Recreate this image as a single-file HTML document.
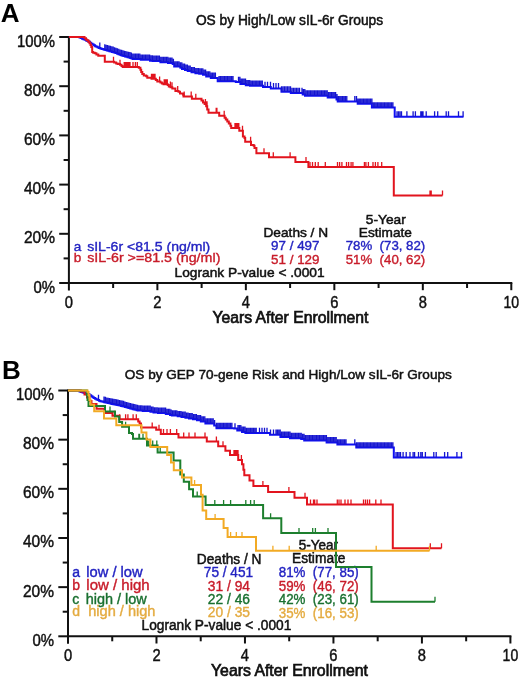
<!DOCTYPE html>
<html><head><meta charset="utf-8"><title>Kaplan-Meier OS curves</title>
<style>
html,body{margin:0;padding:0;background:#fff;}
body{width:520px;height:681px;overflow:hidden;}
svg{display:block;font-family:"Liberation Sans", sans-serif;will-change:transform;}
</style></head>
<body>
<svg width="520" height="681" viewBox="0 0 520 681">
<rect width="520" height="681" fill="#fff"/>
<line x1="68.90" y1="36.00" x2="68.90" y2="290.50" stroke="#111" stroke-width="2"/>
<line x1="67.90" y1="283.00" x2="512.30" y2="283.00" stroke="#111" stroke-width="2"/>
<line x1="59.20" y1="283.00" x2="68.90" y2="283.00" stroke="#111" stroke-width="2"/>
<line x1="63.60" y1="258.40" x2="68.90" y2="258.40" stroke="#111" stroke-width="2"/>
<line x1="59.20" y1="233.80" x2="68.90" y2="233.80" stroke="#111" stroke-width="2"/>
<line x1="63.60" y1="209.20" x2="68.90" y2="209.20" stroke="#111" stroke-width="2"/>
<line x1="59.20" y1="184.60" x2="68.90" y2="184.60" stroke="#111" stroke-width="2"/>
<line x1="63.60" y1="160.00" x2="68.90" y2="160.00" stroke="#111" stroke-width="2"/>
<line x1="59.20" y1="135.40" x2="68.90" y2="135.40" stroke="#111" stroke-width="2"/>
<line x1="63.60" y1="110.80" x2="68.90" y2="110.80" stroke="#111" stroke-width="2"/>
<line x1="59.20" y1="86.20" x2="68.90" y2="86.20" stroke="#111" stroke-width="2"/>
<line x1="63.60" y1="61.60" x2="68.90" y2="61.60" stroke="#111" stroke-width="2"/>
<line x1="59.20" y1="37.00" x2="68.90" y2="37.00" stroke="#111" stroke-width="2"/>
<line x1="113.14" y1="283.00" x2="113.14" y2="288.00" stroke="#111" stroke-width="2"/>
<line x1="157.38" y1="283.00" x2="157.38" y2="290.20" stroke="#111" stroke-width="2"/>
<line x1="201.62" y1="283.00" x2="201.62" y2="288.00" stroke="#111" stroke-width="2"/>
<line x1="245.86" y1="283.00" x2="245.86" y2="290.20" stroke="#111" stroke-width="2"/>
<line x1="290.10" y1="283.00" x2="290.10" y2="288.00" stroke="#111" stroke-width="2"/>
<line x1="334.34" y1="283.00" x2="334.34" y2="290.20" stroke="#111" stroke-width="2"/>
<line x1="378.58" y1="283.00" x2="378.58" y2="288.00" stroke="#111" stroke-width="2"/>
<line x1="422.82" y1="283.00" x2="422.82" y2="290.20" stroke="#111" stroke-width="2"/>
<line x1="467.06" y1="283.00" x2="467.06" y2="288.00" stroke="#111" stroke-width="2"/>
<line x1="511.30" y1="283.00" x2="511.30" y2="290.20" stroke="#111" stroke-width="2"/>
<text x="0.70" y="21.60" font-size="26" fill="#000" font-weight="bold" xml:space="preserve">A</text>
<text x="195.90" y="24.90" font-size="13.8" fill="#111" stroke="#111" stroke-width="0.5" textLength="187.20" lengthAdjust="spacingAndGlyphs" xml:space="preserve">OS by High/Low sIL-6r Groups</text>
<text x="55.00" y="46.60" font-size="16.2" fill="#111" stroke="#111" stroke-width="0.45" text-anchor="end" textLength="38.00" lengthAdjust="spacingAndGlyphs" xml:space="preserve">100%</text>
<text x="55.00" y="95.80" font-size="16.2" fill="#111" stroke="#111" stroke-width="0.45" text-anchor="end" textLength="31.00" lengthAdjust="spacingAndGlyphs" xml:space="preserve">80%</text>
<text x="55.00" y="145.00" font-size="16.2" fill="#111" stroke="#111" stroke-width="0.45" text-anchor="end" textLength="31.00" lengthAdjust="spacingAndGlyphs" xml:space="preserve">60%</text>
<text x="55.00" y="194.20" font-size="16.2" fill="#111" stroke="#111" stroke-width="0.45" text-anchor="end" textLength="31.00" lengthAdjust="spacingAndGlyphs" xml:space="preserve">40%</text>
<text x="55.00" y="243.40" font-size="16.2" fill="#111" stroke="#111" stroke-width="0.45" text-anchor="end" textLength="31.00" lengthAdjust="spacingAndGlyphs" xml:space="preserve">20%</text>
<text x="55.00" y="292.60" font-size="16.2" fill="#111" stroke="#111" stroke-width="0.45" text-anchor="end" textLength="21.60" lengthAdjust="spacingAndGlyphs" xml:space="preserve">0%</text>
<text x="68.90" y="307.80" font-size="16.2" fill="#111" stroke="#111" stroke-width="0.45" text-anchor="middle" textLength="8.20" lengthAdjust="spacingAndGlyphs" xml:space="preserve">0</text>
<text x="157.38" y="307.80" font-size="16.2" fill="#111" stroke="#111" stroke-width="0.45" text-anchor="middle" textLength="8.20" lengthAdjust="spacingAndGlyphs" xml:space="preserve">2</text>
<text x="245.86" y="307.80" font-size="16.2" fill="#111" stroke="#111" stroke-width="0.45" text-anchor="middle" textLength="8.20" lengthAdjust="spacingAndGlyphs" xml:space="preserve">4</text>
<text x="334.34" y="307.80" font-size="16.2" fill="#111" stroke="#111" stroke-width="0.45" text-anchor="middle" textLength="8.20" lengthAdjust="spacingAndGlyphs" xml:space="preserve">6</text>
<text x="422.82" y="307.80" font-size="16.2" fill="#111" stroke="#111" stroke-width="0.45" text-anchor="middle" textLength="8.20" lengthAdjust="spacingAndGlyphs" xml:space="preserve">8</text>
<text x="511.30" y="307.80" font-size="16.2" fill="#111" stroke="#111" stroke-width="0.45" text-anchor="middle" textLength="15.60" lengthAdjust="spacingAndGlyphs" xml:space="preserve">10</text>
<text x="212.40" y="322.60" font-size="15.8" fill="#111" stroke="#111" stroke-width="0.7" textLength="156.10" lengthAdjust="spacingAndGlyphs" xml:space="preserve">Years After Enrollment</text>
<text x="73.80" y="250.80" font-size="13.5" fill="#2323c2" stroke="#2323c2" stroke-width="0.38" xml:space="preserve">a</text>
<text x="87.20" y="250.80" font-size="13.5" fill="#2323c2" stroke="#2323c2" stroke-width="0.38" textLength="123.00" lengthAdjust="spacingAndGlyphs" xml:space="preserve">sIL-6r &lt;81.5 (ng/ml)</text>
<text x="73.80" y="262.00" font-size="13.5" fill="#c81c2a" stroke="#c81c2a" stroke-width="0.38" xml:space="preserve">b</text>
<text x="87.20" y="262.00" font-size="13.5" fill="#c81c2a" stroke="#c81c2a" stroke-width="0.38" textLength="133.20" lengthAdjust="spacingAndGlyphs" xml:space="preserve">sIL-6r &gt;=81.5 (ng/ml)</text>
<text x="263.50" y="236.80" font-size="13.5" fill="#111" stroke="#111" stroke-width="0.5" textLength="64.60" lengthAdjust="spacingAndGlyphs" xml:space="preserve">Deaths / N</text>
<text x="271.10" y="250.00" font-size="13.5" fill="#2323c2" stroke="#2323c2" stroke-width="0.38" textLength="48.40" lengthAdjust="spacingAndGlyphs" xml:space="preserve">97 / 497</text>
<text x="271.10" y="263.80" font-size="13.5" fill="#c81c2a" stroke="#c81c2a" stroke-width="0.38" textLength="48.40" lengthAdjust="spacingAndGlyphs" xml:space="preserve">51 / 129</text>
<text x="174.60" y="277.00" font-size="13.5" fill="#111" stroke="#111" stroke-width="0.5" textLength="150.00" lengthAdjust="spacingAndGlyphs" xml:space="preserve">Logrank P-value &lt; .0001</text>
<text x="365.80" y="223.80" font-size="13.5" fill="#111" stroke="#111" stroke-width="0.5" textLength="39.90" lengthAdjust="spacingAndGlyphs" xml:space="preserve">5-Year</text>
<text x="358.80" y="236.90" font-size="13.5" fill="#111" stroke="#111" stroke-width="0.5" textLength="53.10" lengthAdjust="spacingAndGlyphs" xml:space="preserve">Estimate</text>
<text x="345.70" y="250.30" font-size="13.5" fill="#2323c2" stroke="#2323c2" stroke-width="0.38" textLength="79.60" lengthAdjust="spacingAndGlyphs" xml:space="preserve">78%  (73, 82)</text>
<text x="345.70" y="263.50" font-size="13.5" fill="#c81c2a" stroke="#c81c2a" stroke-width="0.38" textLength="79.60" lengthAdjust="spacingAndGlyphs" xml:space="preserve">51%  (40, 62)</text>
<path d="M68.90,37.00H79.50V37.60H80.80V38.12H82.10V38.64H83.40V39.16H84.70V39.75H86.00V40.40H87.30V41.05H88.60V41.82H89.90V42.73H91.20V43.64H92.50V44.51H93.80V45.32H95.10V46.14H96.40V46.87H97.70V47.42H99.00V47.97H100.30V48.49H101.60V48.88H102.90V49.27H104.20V49.66H105.50V50.05H106.80V50.44H108.10V50.83H109.40V51.22H110.70V51.61H112.00V52.00H113.30V52.36H114.60V52.71H115.90V53.07H117.20V53.64H118.50V54.22H119.80V54.81H121.10V55.25H122.40V55.67H123.70V56.08H125.00V56.50H126.30V56.82H127.60V57.15H128.90V57.47H130.20V57.95H131.50V58.44H132.80V58.92H140.80V59.80H150.00V60.70H152.70V61.00H160.40V62.20H168.00V63.00H172.70V64.10H174.20V66.60H180.40V67.70H182.00V69.00H185.00V70.00H187.70V71.00H191.50V72.30H195.40V73.30H199.20V73.70H203.00V74.80H206.20V76.60H210.80V78.00H217.70V81.30H235.80V82.10H240.40V84.00H245.80V85.30H250.00V85.80H263.00V87.10H270.80V88.50H281.50V91.70H290.80V93.10H302.70V94.50H305.00V95.70H327.70V97.50H336.50V99.50H337.70V101.40H357.70V103.80H371.90V107.60H394.70V116.70H463.50" fill="none" stroke="#1010f4" stroke-width="2" stroke-linejoin="miter"/>
<path d="M99.80,47.97V42.57M104.80,49.66V44.26M106.20,50.05V44.65M107.60,50.44V45.04M109.00,50.83V45.43M110.40,51.22V45.82M111.80,51.61V46.21M113.20,52.00V46.60M114.60,52.71V47.31M116.00,53.07V47.67M117.40,53.64V48.24M118.80,54.22V48.82M120.20,54.81V49.41M121.60,55.25V49.85M123.00,55.67V50.27M124.40,56.08V50.68M125.80,56.50V51.10M127.20,56.82V51.42M128.60,57.15V51.75M130.00,57.47V52.07M131.40,57.95V52.55M132.80,58.92V53.52M134.20,58.92V53.52M135.60,58.92V53.52M137.00,58.92V53.52M138.40,58.92V53.52M139.80,58.92V53.52M141.20,59.80V54.40M142.60,59.80V54.40M144.00,59.80V54.40M145.40,59.80V54.40M146.80,59.80V54.40M148.20,59.80V54.40M149.60,59.80V54.40M151.00,60.70V55.30M152.40,60.70V55.30M153.80,61.00V55.60M155.20,61.00V55.60M156.60,61.00V55.60M158.00,61.00V55.60M159.40,61.00V55.60M160.80,62.20V56.80M162.20,62.20V56.80M163.60,62.20V56.80M165.00,62.20V56.80M166.40,62.20V56.80M167.80,62.20V56.80M169.20,63.00V57.60M170.60,63.00V57.60M172.00,63.00V57.60M173.40,64.10V58.70M174.80,66.60V61.20M176.20,66.60V61.20M177.60,66.60V61.20M179.00,66.60V61.20M180.40,67.70V62.30M181.80,67.70V62.30M183.20,69.00V63.60M184.60,69.00V63.60M186.00,70.00V64.60M187.40,70.00V64.60M188.80,71.00V65.60M190.20,71.00V65.60M191.60,72.30V66.90M193.00,72.30V66.90M194.40,72.30V66.90M195.80,73.30V67.90M197.20,73.30V67.90M198.60,73.30V67.90M200.00,73.70V68.30M201.40,73.70V68.30M202.80,73.70V68.30M204.20,74.80V69.40M205.60,74.80V69.40M207.00,76.60V71.20M208.40,76.60V71.20M209.80,76.60V71.20M211.20,78.00V72.60M212.60,78.00V72.60M214.00,78.00V72.60M215.40,78.00V72.60M219.00,81.30V75.90M220.40,81.30V75.90M221.80,81.30V75.90M223.20,81.30V75.90M224.60,81.30V75.90M226.00,81.30V75.90M227.40,81.30V75.90M228.80,81.30V75.90M230.20,81.30V75.90M231.60,81.30V75.90M233.00,81.30V75.90M238.50,82.10V76.70M239.90,82.10V76.70M241.30,84.00V78.60M242.70,84.00V78.60M244.10,84.00V78.60M245.50,84.00V78.60M246.90,85.30V79.90M248.30,85.30V79.90M249.70,85.30V79.90M251.10,85.80V80.40M252.50,85.80V80.40M253.90,85.80V80.40M255.30,85.80V80.40M256.70,85.80V80.40M258.10,85.80V80.40M259.50,85.80V80.40M260.90,85.80V80.40M262.30,85.80V80.40M265.00,87.10V81.70M267.50,87.10V81.70M270.50,87.10V81.70M273.50,88.50V83.10M276.00,88.50V83.10M278.50,88.50V83.10M281.50,91.70V86.30M283.00,91.70V86.30M284.50,91.70V86.30M286.00,91.70V86.30M287.50,91.70V86.30M289.00,91.70V86.30M290.50,91.70V86.30M292.00,93.10V87.70M293.50,93.10V87.70M295.00,93.10V87.70M296.50,93.10V87.70M298.00,93.10V87.70M299.50,93.10V87.70M302.00,93.10V87.70M303.40,94.50V89.10M304.80,94.50V89.10M306.20,95.70V90.30M307.60,95.70V90.30M309.00,95.70V90.30M310.40,95.70V90.30M311.80,95.70V90.30M313.20,95.70V90.30M314.60,95.70V90.30M316.00,95.70V90.30M317.40,95.70V90.30M318.80,95.70V90.30M320.20,95.70V90.30M321.60,95.70V90.30M323.00,95.70V90.30M324.40,95.70V90.30M325.80,95.70V90.30M327.20,95.70V90.30M328.60,97.50V92.10M330.00,97.50V92.10M331.40,97.50V92.10M332.80,97.50V92.10M334.20,97.50V92.10M335.60,97.50V92.10M337.00,99.50V94.10M338.40,101.40V96.00M339.80,101.40V96.00M341.20,101.40V96.00M342.60,101.40V96.00M344.00,101.40V96.00M345.40,101.40V96.00M346.80,101.40V96.00M354.80,101.40V96.00M356.50,101.40V96.00M357.90,103.80V98.40M359.30,103.80V98.40M360.70,103.80V98.40M362.10,103.80V98.40M363.50,103.80V98.40M364.90,103.80V98.40M366.30,103.80V98.40M367.70,103.80V98.40M369.10,103.80V98.40M370.50,103.80V98.40M371.90,103.80V98.40M373.30,107.60V102.20M374.70,107.60V102.20M376.10,107.60V102.20M377.50,107.60V102.20M378.90,107.60V102.20M380.30,107.60V102.20M381.70,107.60V102.20M383.10,107.60V102.20M384.50,107.60V102.20M385.90,107.60V102.20M387.30,107.60V102.20M388.70,107.60V102.20M390.10,107.60V102.20M391.50,107.60V102.20M392.90,107.60V102.20M397.00,116.70V111.30M398.50,116.70V111.30M400.00,116.70V111.30M401.50,116.70V111.30M406.90,116.70V111.30M413.10,116.70V111.30M415.40,116.70V111.30M420.80,116.70V111.30M422.00,116.70V111.30M423.00,116.70V111.30M426.20,116.70V111.30M434.60,116.70V111.30M437.70,116.70V111.30M446.20,116.70V111.30M448.50,116.70V111.30M458.50,116.70V111.30M463.10,116.70V111.30" fill="none" stroke="#1414d0" stroke-width="1.3"/>
<path d="M68.90,37.00H84.50V38.30H86.00V39.40H86.80V40.20H88.30V41.70H89.50V43.20H90.50V45.00H91.30V47.00H92.20V52.00H93.20V52.70H94.80V53.20H96.40V54.40H98.30V55.80H104.80V61.70H114.20V62.50H116.20V63.60H117.70V64.00H120.00V64.80H121.50V65.90H122.70V66.90H138.80V67.80H140.40V69.70H141.20V72.00H142.30V73.90H143.80V75.50H146.20V76.20H147.30V77.80H151.50V78.80H155.80V80.00H157.30V81.60H160.40V82.40H161.90V83.50H163.50V84.30H167.70V85.00H168.80V86.60H170.50V87.30H172.30V88.60H175.40V90.90H178.50V91.70H180.00V93.60H183.10V94.80H183.50V96.50H191.90V98.80H201.50V100.50H203.00V102.50H204.60V104.00H206.20V106.30H207.20V109.40H208.50V112.80H219.20V115.80H224.60V117.70H225.80V119.60H227.30V121.50H228.80V123.50H230.40V125.80H231.20V127.90H239.30V130.80H242.90V136.50H244.50V138.00H245.20V141.80H251.00V145.00H253.70V145.80H254.50V148.00H256.40V153.30H269.00V157.20H295.40V162.00H308.40V167.00H393.80V195.60H442.50" fill="none" stroke="#e2141e" stroke-width="2" stroke-linejoin="miter"/>
<path d="M113.50,61.70V56.70M120.00,64.80V59.80M124.20,66.90V61.90M125.50,66.90V61.90M126.50,66.90V61.90M127.50,66.90V61.90M128.70,66.90V61.90M130.00,66.90V61.90M133.00,66.90V61.90M135.40,66.90V61.90M137.30,66.90V61.90M151.50,78.80V73.80M152.70,78.80V73.80M154.00,78.80V73.80M155.00,78.80V73.80M159.60,81.60V76.60M164.20,84.30V79.30M165.20,84.30V79.30M166.20,84.30V79.30M167.30,84.30V79.30M170.40,86.60V81.60M172.00,87.30V82.30M177.70,90.90V85.90M184.20,96.50V91.50M191.20,96.50V91.50M195.80,98.80V93.80M205.40,104.00V99.00M206.40,106.30V101.30M207.00,106.30V101.30M216.20,112.80V107.80M216.90,112.80V107.80M224.20,115.80V110.80M235.00,127.90V122.90M236.00,127.90V122.90M237.00,127.90V122.90M238.00,127.90V122.90M238.80,127.90V122.90M242.50,130.80V125.80M250.60,141.80V136.80M264.00,153.30V148.30M273.30,157.20V152.20M290.10,157.20V152.20M306.00,162.00V157.00M310.00,167.00V162.00M312.50,167.00V162.00M315.30,167.00V162.00M318.20,167.00V162.00M325.30,167.00V162.00M337.50,167.00V162.00M339.60,167.00V162.00M341.90,167.00V162.00M346.50,167.00V162.00M348.60,167.00V162.00M351.10,167.00V162.00M352.90,167.00V162.00M364.40,167.00V162.00M365.90,167.00V162.00M368.40,167.00V162.00M373.00,167.00V162.00M375.40,167.00V162.00M377.90,167.00V162.00M381.70,167.00V162.00M430.00,195.60V190.60M431.20,195.60V190.60M442.50,195.60V190.60" fill="none" stroke="#e2141e" stroke-width="1.3"/>
<line x1="68.00" y1="389.50" x2="68.00" y2="643.80" stroke="#111" stroke-width="2"/>
<line x1="67.00" y1="636.30" x2="511.40" y2="636.30" stroke="#111" stroke-width="2"/>
<line x1="58.30" y1="636.30" x2="68.00" y2="636.30" stroke="#111" stroke-width="2"/>
<line x1="62.70" y1="611.72" x2="68.00" y2="611.72" stroke="#111" stroke-width="2"/>
<line x1="58.30" y1="587.14" x2="68.00" y2="587.14" stroke="#111" stroke-width="2"/>
<line x1="62.70" y1="562.56" x2="68.00" y2="562.56" stroke="#111" stroke-width="2"/>
<line x1="58.30" y1="537.98" x2="68.00" y2="537.98" stroke="#111" stroke-width="2"/>
<line x1="62.70" y1="513.40" x2="68.00" y2="513.40" stroke="#111" stroke-width="2"/>
<line x1="58.30" y1="488.82" x2="68.00" y2="488.82" stroke="#111" stroke-width="2"/>
<line x1="62.70" y1="464.24" x2="68.00" y2="464.24" stroke="#111" stroke-width="2"/>
<line x1="58.30" y1="439.66" x2="68.00" y2="439.66" stroke="#111" stroke-width="2"/>
<line x1="62.70" y1="415.08" x2="68.00" y2="415.08" stroke="#111" stroke-width="2"/>
<line x1="58.30" y1="390.50" x2="68.00" y2="390.50" stroke="#111" stroke-width="2"/>
<line x1="112.24" y1="636.30" x2="112.24" y2="641.30" stroke="#111" stroke-width="2"/>
<line x1="156.48" y1="636.30" x2="156.48" y2="643.50" stroke="#111" stroke-width="2"/>
<line x1="200.72" y1="636.30" x2="200.72" y2="641.30" stroke="#111" stroke-width="2"/>
<line x1="244.96" y1="636.30" x2="244.96" y2="643.50" stroke="#111" stroke-width="2"/>
<line x1="289.20" y1="636.30" x2="289.20" y2="641.30" stroke="#111" stroke-width="2"/>
<line x1="333.44" y1="636.30" x2="333.44" y2="643.50" stroke="#111" stroke-width="2"/>
<line x1="377.68" y1="636.30" x2="377.68" y2="641.30" stroke="#111" stroke-width="2"/>
<line x1="421.92" y1="636.30" x2="421.92" y2="643.50" stroke="#111" stroke-width="2"/>
<line x1="466.16" y1="636.30" x2="466.16" y2="641.30" stroke="#111" stroke-width="2"/>
<line x1="510.40" y1="636.30" x2="510.40" y2="643.50" stroke="#111" stroke-width="2"/>
<text x="2.00" y="378.60" font-size="26" fill="#000" font-weight="bold" xml:space="preserve">B</text>
<text x="124.80" y="378.70" font-size="13.5" fill="#111" stroke="#111" stroke-width="0.5" textLength="327.00" lengthAdjust="spacingAndGlyphs" xml:space="preserve">OS by GEP 70-gene Risk and High/Low sIL-6r Groups</text>
<text x="54.00" y="400.00" font-size="16.2" fill="#111" stroke="#111" stroke-width="0.45" text-anchor="end" textLength="38.00" lengthAdjust="spacingAndGlyphs" xml:space="preserve">100%</text>
<text x="54.00" y="449.16" font-size="16.2" fill="#111" stroke="#111" stroke-width="0.45" text-anchor="end" textLength="31.00" lengthAdjust="spacingAndGlyphs" xml:space="preserve">80%</text>
<text x="54.00" y="498.32" font-size="16.2" fill="#111" stroke="#111" stroke-width="0.45" text-anchor="end" textLength="31.00" lengthAdjust="spacingAndGlyphs" xml:space="preserve">60%</text>
<text x="54.00" y="547.48" font-size="16.2" fill="#111" stroke="#111" stroke-width="0.45" text-anchor="end" textLength="31.00" lengthAdjust="spacingAndGlyphs" xml:space="preserve">40%</text>
<text x="54.00" y="596.64" font-size="16.2" fill="#111" stroke="#111" stroke-width="0.45" text-anchor="end" textLength="31.00" lengthAdjust="spacingAndGlyphs" xml:space="preserve">20%</text>
<text x="54.00" y="645.80" font-size="16.2" fill="#111" stroke="#111" stroke-width="0.45" text-anchor="end" textLength="21.60" lengthAdjust="spacingAndGlyphs" xml:space="preserve">0%</text>
<text x="68.00" y="661.00" font-size="16.2" fill="#111" stroke="#111" stroke-width="0.45" text-anchor="middle" textLength="8.20" lengthAdjust="spacingAndGlyphs" xml:space="preserve">0</text>
<text x="156.48" y="661.00" font-size="16.2" fill="#111" stroke="#111" stroke-width="0.45" text-anchor="middle" textLength="8.20" lengthAdjust="spacingAndGlyphs" xml:space="preserve">2</text>
<text x="244.96" y="661.00" font-size="16.2" fill="#111" stroke="#111" stroke-width="0.45" text-anchor="middle" textLength="8.20" lengthAdjust="spacingAndGlyphs" xml:space="preserve">4</text>
<text x="333.44" y="661.00" font-size="16.2" fill="#111" stroke="#111" stroke-width="0.45" text-anchor="middle" textLength="8.20" lengthAdjust="spacingAndGlyphs" xml:space="preserve">6</text>
<text x="421.92" y="661.00" font-size="16.2" fill="#111" stroke="#111" stroke-width="0.45" text-anchor="middle" textLength="8.20" lengthAdjust="spacingAndGlyphs" xml:space="preserve">8</text>
<text x="510.40" y="661.00" font-size="16.2" fill="#111" stroke="#111" stroke-width="0.45" text-anchor="middle" textLength="15.60" lengthAdjust="spacingAndGlyphs" xml:space="preserve">10</text>
<text x="211.00" y="675.70" font-size="15.8" fill="#111" stroke="#111" stroke-width="0.7" textLength="156.90" lengthAdjust="spacingAndGlyphs" xml:space="preserve">Years After Enrollment</text>
<text x="72.20" y="576.90" font-size="14" fill="#2323c2" stroke="#2323c2" stroke-width="0.38" xml:space="preserve">a</text>
<text x="86.30" y="576.90" font-size="14" fill="#2323c2" stroke="#2323c2" stroke-width="0.38" textLength="56.30" lengthAdjust="spacingAndGlyphs" xml:space="preserve">low / low</text>
<text x="72.20" y="590.40" font-size="14" fill="#c81c2a" stroke="#c81c2a" stroke-width="0.38" xml:space="preserve">b</text>
<text x="86.30" y="590.40" font-size="14" fill="#c81c2a" stroke="#c81c2a" stroke-width="0.38" textLength="63.40" lengthAdjust="spacingAndGlyphs" xml:space="preserve">low / high</text>
<text x="72.20" y="603.50" font-size="14" fill="#1a7030" stroke="#1a7030" stroke-width="0.38" xml:space="preserve">c</text>
<text x="85.70" y="603.50" font-size="14" fill="#1a7030" stroke="#1a7030" stroke-width="0.38" textLength="61.10" lengthAdjust="spacingAndGlyphs" xml:space="preserve">high / low</text>
<text x="72.20" y="616.30" font-size="14" fill="#e4ab40" stroke="#e4ab40" stroke-width="0.38" xml:space="preserve">d</text>
<text x="88.20" y="616.30" font-size="14" fill="#e4ab40" stroke="#e4ab40" stroke-width="0.38" textLength="67.30" lengthAdjust="spacingAndGlyphs" xml:space="preserve">high / high</text>
<text x="196.80" y="563.50" font-size="14" fill="#111" stroke="#111" stroke-width="0.5" textLength="64.60" lengthAdjust="spacingAndGlyphs" xml:space="preserve">Deaths / N</text>
<text x="203.80" y="577.30" font-size="14" fill="#2323c2" stroke="#2323c2" stroke-width="0.38" textLength="49.30" lengthAdjust="spacingAndGlyphs" xml:space="preserve">75 / 451</text>
<text x="207.80" y="590.50" font-size="14" fill="#c81c2a" stroke="#c81c2a" stroke-width="0.38" textLength="42.20" lengthAdjust="spacingAndGlyphs" xml:space="preserve">31 / 94</text>
<text x="207.80" y="603.50" font-size="14" fill="#1a7030" stroke="#1a7030" stroke-width="0.38" textLength="42.20" lengthAdjust="spacingAndGlyphs" xml:space="preserve">22 / 46</text>
<text x="207.80" y="616.70" font-size="14" fill="#e4ab40" stroke="#e4ab40" stroke-width="0.38" textLength="42.20" lengthAdjust="spacingAndGlyphs" xml:space="preserve">20 / 35</text>
<text x="141.50" y="630.30" font-size="14" fill="#111" stroke="#111" stroke-width="0.5" textLength="149.80" lengthAdjust="spacingAndGlyphs" xml:space="preserve">Logrank P-value &lt; .0001</text>
<text x="298.75" y="549.50" font-size="14" fill="#111" stroke="#111" stroke-width="0.5" textLength="39.30" lengthAdjust="spacingAndGlyphs" xml:space="preserve">5-Year</text>
<text x="292.00" y="563.00" font-size="14" fill="#111" stroke="#111" stroke-width="0.5" textLength="53.50" lengthAdjust="spacingAndGlyphs" xml:space="preserve">Estimate</text>
<text x="278.75" y="577.00" font-size="14" fill="#2323c2" stroke="#2323c2" stroke-width="0.38" textLength="80.00" lengthAdjust="spacingAndGlyphs" xml:space="preserve">81%  (77, 85)</text>
<text x="278.75" y="590.75" font-size="14" fill="#c81c2a" stroke="#c81c2a" stroke-width="0.38" textLength="80.00" lengthAdjust="spacingAndGlyphs" xml:space="preserve">59%  (46, 72)</text>
<text x="278.75" y="604.25" font-size="14" fill="#1a7030" stroke="#1a7030" stroke-width="0.38" textLength="80.00" lengthAdjust="spacingAndGlyphs" xml:space="preserve">42%  (23, 61)</text>
<text x="278.75" y="617.50" font-size="14" fill="#e4ab40" stroke="#e4ab40" stroke-width="0.38" textLength="80.00" lengthAdjust="spacingAndGlyphs" xml:space="preserve">35%  (16, 53)</text>
<path d="M68.00,390.50H79.50V391.60H80.80V391.95H82.10V392.29H83.40V392.64H84.70V393.08H86.00V393.59H87.30V394.11H88.60V394.62H89.90V395.32H91.20V396.23H92.50V397.14H93.80V397.99H95.10V398.76H96.40V399.50H97.70V400.12H99.00V400.75H100.30V401.13H101.60V401.49H102.90V401.82H104.20V402.15H105.50V402.48H106.80V402.78H108.10V403.07H109.40V403.37H110.70V403.64H112.00V403.91H113.30V404.17H114.60V404.44H115.90V404.71H117.20V405.00H118.50V405.29H119.80V405.60H121.10V405.92H122.40V406.25H123.70V406.59H125.00V406.95H126.30V407.31H127.60V407.67H128.90V408.05H130.20V408.43H131.50V408.79H132.80V409.14H134.10V409.49H135.40V409.85H136.70V410.20H138.00V410.56H142.70V411.00H150.40V411.80H153.50V412.60H158.00V413.00H165.80V414.10H170.00V415.00H171.90V415.60H177.70V416.30H181.50V417.00H185.40V417.80H189.00V418.50H193.00V419.30H197.00V420.30H200.80V421.60H205.40V423.60H214.20V425.50H216.50V428.20H234.20V428.60H237.30V430.50H242.00V432.00H245.40V433.10H270.00V434.80H280.40V436.90H290.00V438.20H301.20V439.10H304.20V440.50H326.60V442.50H337.40V444.60H356.30V447.60H393.80V457.40H462.30" fill="none" stroke="#1010f4" stroke-width="2" stroke-linejoin="miter"/>
<path d="M98.50,400.12V394.72M104.00,401.82V396.42M105.40,402.15V396.75M106.80,402.78V397.38M108.20,403.07V397.67M109.60,403.37V397.97M111.00,403.64V398.24M112.40,403.91V398.51M113.80,404.17V398.77M115.20,404.44V399.04M116.60,404.71V399.31M118.00,405.00V399.60M119.40,405.29V399.89M120.80,405.60V400.20M122.20,405.92V400.52M123.60,406.25V400.85M125.00,406.95V401.55M126.40,407.31V401.91M127.80,407.67V402.27M129.20,408.05V402.65M130.60,408.43V403.03M132.00,408.79V403.39M133.40,409.14V403.74M134.80,409.49V404.09M136.20,409.85V404.45M137.60,410.20V404.80M139.00,410.56V405.16M140.40,410.56V405.16M141.80,410.56V405.16M143.20,411.00V405.60M144.60,411.00V405.60M146.00,411.00V405.60M147.40,411.00V405.60M148.80,411.00V405.60M150.20,411.00V405.60M151.60,411.80V406.40M153.00,411.80V406.40M154.40,412.60V407.20M155.80,412.60V407.20M157.20,412.60V407.20M158.60,413.00V407.60M160.00,413.00V407.60M161.40,413.00V407.60M162.80,413.00V407.60M164.20,413.00V407.60M165.60,413.00V407.60M167.00,414.10V408.70M168.40,414.10V408.70M169.80,414.10V408.70M171.20,415.00V409.60M172.60,415.60V410.20M174.00,415.60V410.20M175.40,415.60V410.20M176.80,415.60V410.20M178.20,416.30V410.90M179.60,416.30V410.90M181.00,416.30V410.90M182.40,417.00V411.60M183.80,417.00V411.60M185.20,417.00V411.60M186.60,417.80V412.40M188.00,417.80V412.40M189.40,418.50V413.10M190.80,418.50V413.10M192.20,418.50V413.10M193.60,419.30V413.90M195.00,419.30V413.90M196.40,419.30V413.90M197.80,420.30V414.90M199.20,420.30V414.90M200.60,420.30V414.90M202.00,421.60V416.20M203.40,421.60V416.20M204.80,421.60V416.20M206.20,423.60V418.20M207.60,423.60V418.20M209.00,423.60V418.20M210.40,423.60V418.20M211.80,423.60V418.20M213.20,423.60V418.20M214.60,425.50V420.10M216.50,428.20V422.80M217.90,428.20V422.80M219.30,428.20V422.80M220.70,428.20V422.80M222.10,428.20V422.80M223.50,428.20V422.80M224.90,428.20V422.80M226.30,428.20V422.80M227.70,428.20V422.80M229.10,428.20V422.80M230.50,428.20V422.80M231.90,428.20V422.80M235.00,428.60V423.20M238.00,430.50V425.10M239.40,430.50V425.10M240.80,430.50V425.10M242.20,432.00V426.60M243.60,432.00V426.60M245.00,432.00V426.60M246.40,433.10V427.70M247.80,433.10V427.70M249.20,433.10V427.70M250.60,433.10V427.70M252.00,433.10V427.70M253.40,433.10V427.70M254.80,433.10V427.70M256.20,433.10V427.70M259.50,433.10V427.70M262.00,433.10V427.70M264.50,433.10V427.70M267.00,433.10V427.70M270.50,434.80V429.40M273.50,434.80V429.40M276.00,434.80V429.40M277.40,434.80V429.40M278.80,434.80V429.40M280.20,434.80V429.40M281.60,436.90V431.50M283.00,436.90V431.50M284.40,436.90V431.50M285.80,436.90V431.50M287.20,436.90V431.50M288.60,436.90V431.50M290.00,436.90V431.50M291.40,438.20V432.80M292.80,438.20V432.80M294.20,438.20V432.80M295.60,438.20V432.80M297.00,438.20V432.80M298.40,438.20V432.80M299.80,438.20V432.80M301.20,438.20V432.80M302.60,439.10V433.70M304.00,439.10V433.70M305.40,440.50V435.10M306.80,440.50V435.10M308.20,440.50V435.10M309.60,440.50V435.10M311.00,440.50V435.10M312.40,440.50V435.10M313.80,440.50V435.10M315.20,440.50V435.10M316.60,440.50V435.10M318.00,440.50V435.10M319.40,440.50V435.10M320.80,440.50V435.10M322.20,440.50V435.10M323.60,440.50V435.10M325.00,440.50V435.10M326.40,440.50V435.10M327.80,442.50V437.10M329.20,442.50V437.10M330.60,442.50V437.10M332.00,442.50V437.10M333.40,442.50V437.10M334.80,442.50V437.10M336.20,442.50V437.10M337.60,444.60V439.20M339.00,444.60V439.20M340.40,444.60V439.20M341.80,444.60V439.20M343.20,444.60V439.20M344.60,444.60V439.20M346.00,444.60V439.20M354.80,444.60V439.20M356.50,447.60V442.20M357.90,447.60V442.20M359.30,447.60V442.20M360.70,447.60V442.20M362.10,447.60V442.20M363.50,447.60V442.20M364.90,447.60V442.20M366.30,447.60V442.20M367.70,447.60V442.20M369.10,447.60V442.20M370.50,447.60V442.20M371.90,447.60V442.20M373.30,447.60V442.20M374.70,447.60V442.20M376.10,447.60V442.20M377.50,447.60V442.20M378.90,447.60V442.20M380.30,447.60V442.20M381.70,447.60V442.20M383.10,447.60V442.20M384.50,447.60V442.20M385.90,447.60V442.20M387.30,447.60V442.20M388.70,447.60V442.20M390.10,447.60V442.20M391.50,447.60V442.20M392.90,447.60V442.20M396.00,457.40V452.00M397.50,457.40V452.00M399.00,457.40V452.00M400.50,457.40V452.00M403.10,457.40V452.00M406.20,457.40V452.00M410.00,457.40V452.00M413.10,457.40V452.00M414.60,457.40V452.00M418.50,457.40V452.00M420.80,457.40V452.00M422.30,457.40V452.00M425.40,457.40V452.00M433.80,457.40V452.00M436.20,457.40V452.00M444.60,457.40V452.00M447.70,457.40V452.00M456.90,457.40V452.00M461.50,457.40V452.00" fill="none" stroke="#1414d0" stroke-width="1.3"/>
<path d="M68.00,390.50H81.00V391.50H84.50V394.50H87.00V397.50H89.50V401.00H91.50V404.00H96.50V408.70H104.50V413.00H112.50V415.80H119.50V419.20H138.20V421.50H139.60V423.50H141.00V427.60H156.20V429.80H160.80V434.00H178.50V437.40H206.80V441.50H218.20V446.30H225.40V450.80H230.00V455.00H238.20V460.00H242.00V464.20H243.40V469.80H244.30V475.30H249.50V480.60H253.40V486.00H268.10V491.90H294.50V497.70H307.00V504.60H392.80V548.30H441.50" fill="none" stroke="#e2141e" stroke-width="2" stroke-linejoin="miter"/>
<path d="M114.50,415.80V410.80M119.60,419.20V414.20M125.60,419.20V414.20M127.90,419.20V414.20M133.10,419.20V414.20M136.30,419.20V414.20M152.20,427.60V422.60M159.00,429.80V424.80M163.50,434.00V429.00M167.00,434.00V429.00M170.40,434.00V429.00M176.70,434.00V429.00M183.70,437.40V432.40M189.00,437.40V432.40M195.00,437.40V432.40M205.00,437.40V432.40M216.40,441.50V436.50M223.00,446.30V441.30M234.00,455.00V450.00M235.00,455.00V450.00M236.00,455.00V450.00M237.00,455.00V450.00M238.00,455.00V450.00M241.40,460.00V455.00M262.90,486.00V481.00M288.90,491.90V486.90M305.00,497.70V492.70M310.50,504.60V499.60M313.50,504.60V499.60M314.70,504.60V499.60M317.00,504.60V499.60M337.30,504.60V499.60M339.00,504.60V499.60M341.00,504.60V499.60M345.00,504.60V499.60M348.00,504.60V499.60M351.00,504.60V499.60M363.50,504.60V499.60M365.50,504.60V499.60M367.50,504.60V499.60M369.60,504.60V499.60M375.80,504.60V499.60M381.00,504.60V499.60M430.30,548.30V543.30M441.50,548.30V543.30" fill="none" stroke="#e2141e" stroke-width="1.3"/>
<path d="M68.00,390.50H86.80V395.00H87.50V400.00H88.50V406.00H105.00V411.50H115.00V416.50H119.20V422.00H122.10V426.80H129.00V433.00H132.00V434.00H133.00V438.80H147.00V445.60H157.60V452.50H173.60V460.40H180.30V474.50H183.80V481.70H189.10V489.20H193.00V496.60H205.60V505.00H263.10V518.20H281.30V533.10H336.00V567.00H371.50V601.80H435.00" fill="none" stroke="#1d7f2e" stroke-width="2" stroke-linejoin="miter"/>
<path d="M110.00,411.50V406.50M125.60,426.80V421.80M138.90,438.80V433.80M139.50,438.80V433.80M143.00,438.80V433.80M148.70,445.60V440.60M152.70,445.60V440.60M156.80,445.60V440.60M160.20,452.50V447.50M197.20,496.60V491.60M214.80,505.00V500.00M223.60,505.00V500.00M230.60,505.00V500.00M245.80,505.00V500.00M250.60,505.00V500.00M254.20,505.00V500.00M270.60,518.20V513.20M299.00,533.10V528.10M312.70,533.10V528.10M315.40,533.10V528.10M328.00,533.10V528.10M435.00,601.80V596.80" fill="none" stroke="#1d7f2e" stroke-width="1.3"/>
<path d="M68.00,390.50H87.50V392.00H88.50V395.00H89.50V400.00H90.50V404.80H94.20V411.20H104.00V418.40H116.30V425.30H141.50V432.50H146.40V439.40H150.40V447.10H167.20V455.00H171.00V462.50H173.80V470.30H182.00V477.40H191.40V485.00H201.00V494.80H202.60V510.60H206.20V519.00H223.60V527.90H227.60V537.00H256.00V550.80H429.50" fill="none" stroke="#f2aa24" stroke-width="2" stroke-linejoin="miter"/>
<path d="M150.40,447.10V442.10M194.60,485.00V480.00M215.10,519.00V514.00M230.60,537.00V532.00M236.30,537.00V532.00M242.00,537.00V532.00M272.90,550.80V545.80M289.20,550.80V545.80M376.20,550.80V545.80M429.50,550.80V545.80" fill="none" stroke="#f2aa24" stroke-width="1.3"/>
</svg>
</body></html>
